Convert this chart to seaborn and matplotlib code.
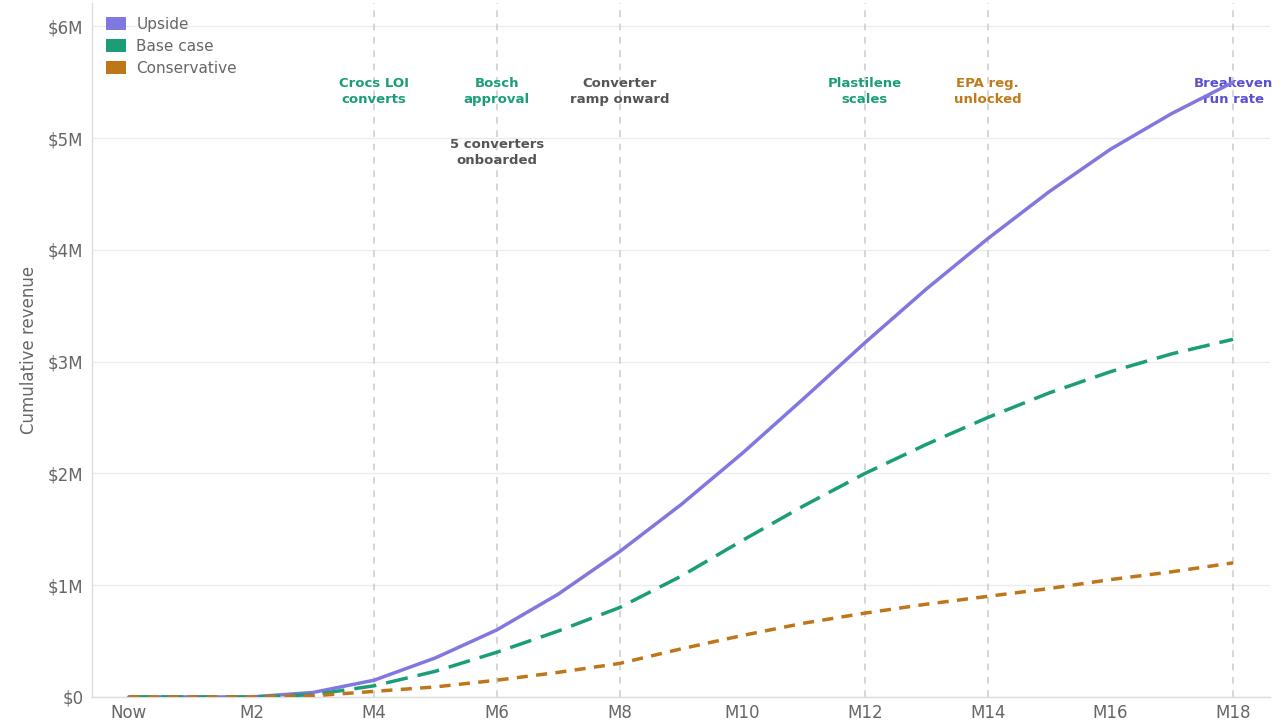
import numpy as np
import pandas as pd
import matplotlib
matplotlib.use("Agg")
import matplotlib.pyplot as plt
from matplotlib.patches import Patch
from matplotlib.ticker import FuncFormatter
import seaborn as sns

# Monthly cumulative revenue (in $M)
months = list(range(19))
month_labels = ["Now", "M2", "M4", "M6", "M8", "M10", "M12", "M14", "M16", "M18"]
upside = [0, 0, 0, 0.04, 0.15, 0.35, 0.6, 0.92, 1.3, 1.72, 2.18, 2.67, 3.17,
          3.65, 4.1, 4.52, 4.9, 5.22, 5.5]
base_case = [0, 0, 0, 0.02, 0.1, 0.23, 0.4, 0.59, 0.8, 1.08, 1.4, 1.71, 2.0,
             2.26, 2.5, 2.72, 2.91, 3.07, 3.2]
conservative = [0, 0, 0, 0.01, 0.05, 0.09, 0.15, 0.22, 0.3, 0.43, 0.55, 0.66,
                0.75, 0.83, 0.9, 0.97, 1.05, 1.12, 1.2]

scenarios = ["Upside", "Base case", "Conservative"]
colors = {"Upside": "#8177e0", "Base case": "#1b9e77", "Conservative": "#bf7619"}
dashes = {"Upside": "", "Base case": (6.4, 2.9), "Conservative": (3.2, 2.4)}

# Milestone annotations
milestone_months = [4, 6, 8, 12, 14, 18]
milestone_text = ["Crocs LOI\nconverts", "Bosch\napproval", "Converter\nramp onward",
                  "Plastilene\nscales", "EPA reg.\nunlocked", "Breakeven\nrun rate"]
milestone_colors = ["#1b9e77", "#1b9e77", "#555555", "#1b9e77", "#c07a1a", "#5a4fcf"]

df = pd.DataFrame({
    "month": months * 3,
    "revenue": np.concatenate([upside, base_case, conservative]) * 1e6,
    "scenario": ["Upside"] * 19 + ["Base case"] * 19 + ["Conservative"] * 19,
})

sns.set_theme(style="white")
plt.rcParams["font.family"] = ["DejaVu Sans"]

fig = plt.figure(figsize=(12.86, 7.2), dpi=100)
ax = fig.add_axes([0.0715, 0.032, 0.916, 0.964])

# Grid and milestone guides
ax.yaxis.grid(True, color="#ececec", linewidth=1.0, zorder=0)
for m in milestone_months:
    ax.axvline(m, color="#cfcfcf", linestyle=(0, (4, 4)), linewidth=1.2, zorder=1)

sns.lineplot(data=df, x="month", y="revenue", hue="scenario", style="scenario",
             hue_order=scenarios, style_order=scenarios, palette=colors,
             dashes=dashes, linewidth=2.5, legend=False, ax=ax, zorder=3)

ax.set_xlim(-0.6, 18.6)
ax.set_ylim(0, 6.21e6)
ax.set_xticks(range(0, 19, 2))
ax.set_xticklabels(month_labels)
ax.set_yticks(np.arange(0, 7e6, 1e6))
ax.yaxis.set_major_formatter(FuncFormatter(lambda v, _: "$0" if v == 0 else f"${v / 1e6:.0f}M"))
ax.tick_params(axis="both", length=0, labelsize=12, labelcolor="#666666")
ax.tick_params(axis="y", pad=6)
ax.tick_params(axis="x", pad=5)
ax.set_xlabel("")
ax.set_ylabel("Cumulative revenue", fontsize=12, color="#666666", labelpad=7)

for side in ["top", "right"]:
    ax.spines[side].set_visible(False)
for side in ["left", "bottom"]:
    ax.spines[side].set_color("#dddddd")
    ax.spines[side].set_linewidth(1.0)

for m, txt, c in zip(milestone_months, milestone_text, milestone_colors):
    ax.text(m, 5.42e6, txt, ha="center", va="center", fontsize=9.5,
            fontweight="bold", color=c, linespacing=1.3, zorder=2)
ax.text(6, 4.87e6, "5 converters\nonboarded", ha="center", va="center",
        fontsize=9.5, fontweight="bold", color="#555555", linespacing=1.3, zorder=2)

handles = [Patch(facecolor=colors[s], edgecolor="none", label=s) for s in scenarios]
leg = ax.legend(handles=handles, loc="upper left", frameon=False, fontsize=11,
                handlelength=1.3, handleheight=0.9, labelspacing=0.47,
                handletextpad=0.7)
for t in leg.get_texts():
    t.set_color("#666666")

fig.savefig("out.png", dpi=100)
plt.close(fig)
